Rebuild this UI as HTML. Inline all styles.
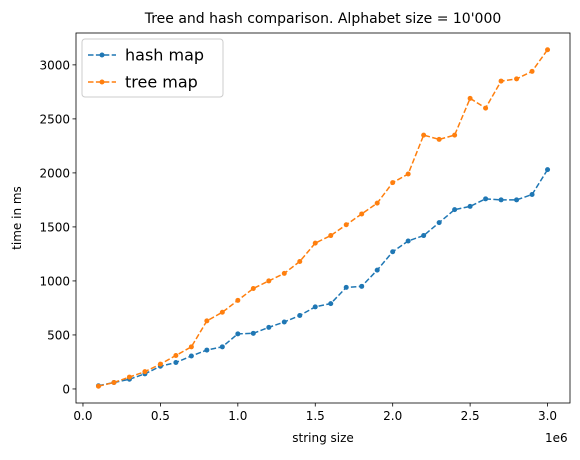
<!DOCTYPE html>
<html><head><meta charset="utf-8"><style>
body{margin:0;background:#fff;font-family:"Liberation Sans","DejaVu Sans",sans-serif}
svg text{font-family:"DejaVu Sans","Liberation Sans",sans-serif;fill:#000}
</style></head><body>
<svg id="c" width="580" height="455" xmlns="http://www.w3.org/2000/svg"></svg>
<script>
const xs=[0.1,0.2,0.3,0.4,0.5,0.6,0.7,0.8,0.9,1.0,1.1,1.2,1.3,1.4,1.5,1.6,1.7,1.8,1.9,2.0,2.1,2.2,2.3,2.4,2.5,2.6,2.7,2.8,2.9,3.0];
const hashVals=[30,60,90,140,210,245,305,360,390,510,515,570,620,680,760,790,940,950,1100,1270,1370,1420,1540,1660,1690,1760,1750,1750,1800,2030];
const treeVals=[25,60,110,160,230,310,390,630,710,820,930,1000,1070,1180,1350,1420,1520,1620,1720,1910,1990,2350,2310,2350,2690,2600,2850,2870,2940,3140];
const xTicks=[0,0.5,1,1.5,2,2.5,3];
const xTickLabels=["0.0","0.5","1.0","1.5","2.0","2.5","3.0"];
const yTicks=[0,500,1000,1500,2000,2500,3000];
const L=76,R=570,T=33,B=403;
const xmin=-0.045,xmax=3.145,ymin=-130,ymax=3295;
const X=v=>L+(v-xmin)/(xmax-xmin)*(R-L);
const Y=v=>B-(v-ymin)/(ymax-ymin)*(B-T);
const svg=document.getElementById('c');const NS="http://www.w3.org/2000/svg";
function mk(t,a,txt){const e=document.createElementNS(NS,t);for(const k in a)e.setAttribute(k,a[k]);if(txt!==undefined)e.textContent=txt;svg.appendChild(e);return e;}
let e;
e=mk('rect',{x:L,y:T,width:R-L,height:B-T,fill:'none',stroke:'#000','stroke-width':0.8});


xTicks.forEach((t,i)=>{
 e=mk('line',{x1:X(t),x2:X(t),y1:B,y2:B+3.5,stroke:'#000','stroke-width':0.8});
 
 
 e=mk('text',{x:X(t),y:B+17,'font-size':12,'text-anchor':'middle'},xTickLabels[i]);
 
 
});
yTicks.forEach(t=>{
 e=mk('line',{x1:L-3.5,x2:L,y1:Y(t),y2:Y(t),stroke:'#000','stroke-width':0.8});
 
 
 e=mk('text',{x:L-6,y:Y(t)+4.5,'font-size':12,'text-anchor':'end'},String(t));
 
 
});
function series(vals,col,name){
 e=mk('polyline',{points:xs.map((x,i)=>X(x)+','+Y(vals[i])).join(' '),fill:'none',stroke:col,'stroke-width':1.5,'stroke-dasharray':'5.5,2.4'});
 
 
 xs.forEach((x,i)=>{
  e=mk('circle',{cx:X(x),cy:Y(vals[i]),r:2.5,fill:col});
  
  
 });
}
series(hashVals,'#1f77b4','hash-map');
series(treeVals,'#ff7f0e','tree-map');
e=mk('text',{x:(L+R)/2,y:23,'font-size':14,'text-anchor':'middle'},"Tree and hash comparison. Alphabet size = 10'000");


e=mk('text',{x:(L+R)/2,y:442,'font-size':12,'text-anchor':'middle'},'string size');


e=mk('text',{x:545,y:442,'font-size':12},'1e6');


e=mk('text',{x:21,y:(T+B)/2,'font-size':12,'text-anchor':'middle',transform:`rotate(-90 21 ${(T+B)/2})`},'time in ms');


e=mk('rect',{x:82,y:39,width:141,height:58,rx:3,fill:'#fff','fill-opacity':0.8,stroke:'#ccc'});


[['#1f77b4','hash map',55],['#ff7f0e','tree map',82]].forEach(([c,t,y])=>{
 e=mk('line',{x1:88,x2:116,y1:y,y2:y,stroke:c,'stroke-width':1.5,'stroke-dasharray':'5.5,2.4'});
 
 
 e=mk('circle',{cx:102,cy:y,r:2.5,fill:c});
 
 
 e=mk('text',{x:125,y:y+5.5,'font-size':16},t);
 
 
});
</script>
</body></html>
